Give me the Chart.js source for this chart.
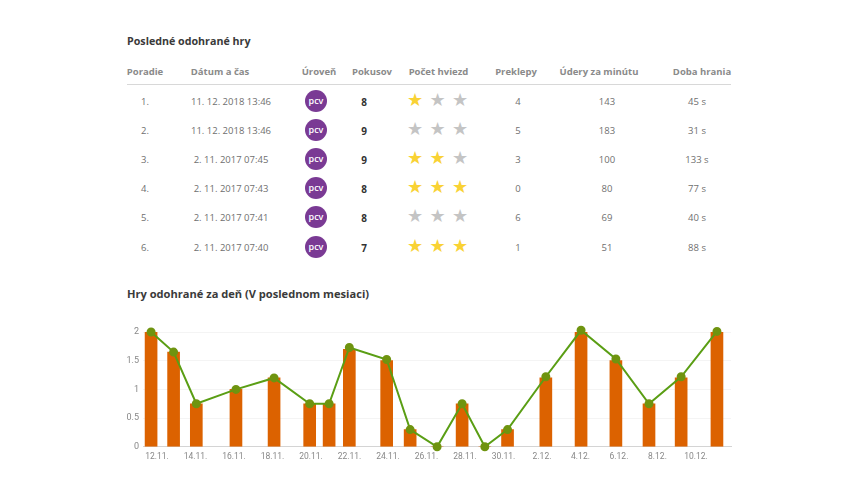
<!DOCTYPE html>
<html>
<head>
<meta charset="utf-8">
<script src="https://cdn.jsdelivr.net/npm/chart.js@4/dist/chart.umd.min.js"></script>
<style>
html, body { margin: 0; padding: 0; background: #fff; }
body { width: 860px; height: 493px; position: relative; overflow: hidden; font-family: "Open Sans", sans-serif; }
.title { position: absolute; left: 127px; font-size: 10.7px; font-weight: 700; color: #3a3a3a; white-space: nowrap; }
.head, .cell { position: absolute; transform: translateX(-50%); white-space: nowrap; line-height: 14px; }
.head { top: 65px; font-size: 9.5px; font-weight: 700; color: #8a8a8a; }
.cell { font-size: 9.5px; color: #6f6f6f; }
.cell.tries { font-size: 10px; font-weight: 700; color: #333; }
#rule { position: absolute; left: 127px; top: 84px; width: 604px; height: 1px; background: #d8d8d8; }
.badge { position: absolute; width: 22px; height: 22px; border-radius: 50%; background: #7a3a94; color: #fff; font-size: 9px; font-weight: 600; line-height: 22px; text-align: center; }
.star { position: absolute; transform: translateX(-50%); font-family: "DejaVu Sans"; font-size: 18px; line-height: 20px; color: #c4c4c4; }
.star.on { color: #f9d234; }
#chartBox { position: absolute; left: 120px; top: 322px; }
</style>
</head>
<body>
<div class="title" style="top:34px">Posledné odohrané hry</div>
<div class="title" style="top:286px;font-size:11.1px">Hry odohrané za deň (V poslednom mesiaci)</div>
<div id="rule"></div>
<div id="table"></div>
<div id="chartBox"><canvas id="playsChart" width="620" height="137"></canvas></div>
<script>
var columns = ["Poradie", "Dátum a čas", "Úroveň", "Pokusov", "Počet hviezd", "Preklepy", "Údery za minútu", "Doba hrania"];
var columnX = [145, 220, 319, 372, 438.5, 516, 599, 702];
var rowY = [102, 131, 160, 189, 218, 248];

var ranks = ["1.", "2.", "3.", "4.", "5.", "6."];
var dates = ["11. 12. 2018 13:46", "11. 12. 2018 13:46", "2. 11. 2017 07:45", "2. 11. 2017 07:43", "2. 11. 2017 07:41", "2. 11. 2017 07:40"];
var tries = [8, 9, 9, 8, 8, 7];
var stars = [1, 0, 2, 3, 0, 3];
var typos = [4, 5, 3, 0, 6, 1];
var strokes = [143, 183, 100, 80, 69, 51];
var durations = ["45 s", "31 s", "133 s", "77 s", "40 s", "88 s"];

// days since 12.11., games were not played at midnight so positions are uneven
var playDays = [-0.31, 0.86, 2.04, 4.1, 6.08, 7.93, 8.94, 9.99, 11.93, 13.15, 14.55, 15.85, 17.03, 18.21, 20.2, 22.03, 23.84, 25.56, 27.23, 29.09];
var playCounts = [2, 1.65, 0.75, 1, 1.2, 0.75, 0.75, 1.7, 1.5, 0.3, 0, 0.75, 0, 0.3, 1.2, 2, 1.5, 0.75, 1.2, 2];
var lineCounts = [2, 1.65, 0.75, 1, 1.2, 0.75, 0.75, 1.73, 1.52, 0.3, 0, 0.75, 0, 0.3, 1.22, 2.03, 1.53, 0.75, 1.22, 2.01];

var tickDays = [0, 2, 4, 6, 8, 10, 12, 14, 16, 18, 20, 22, 24, 26, 28];
var tickLabels = ["12.11.", "14.11.", "16.11.", "18.11.", "20.11.", "22.11.", "24.11.", "26.11.", "28.11.", "30.11.", "2.12.", "4.12.", "6.12.", "8.12.", "10.12."];
var yTicks = [0, 0.5, 1, 1.5, 2];

var table = document.getElementById("table");

function addCell(cls, x, y, text) {
	var el = document.createElement("div");
	el.className = cls;
	el.style.left = x + "px";
	el.style.top = y + "px";
	el.textContent = text;
	table.appendChild(el);
	return el;
}

columns.forEach(function(name, i) {
	addCell("head", columnX[i], 65, name);
});

ranks.forEach(function(rank, i) {
	var y = rowY[i] - 7;
	addCell("cell", columnX[0], y, rank);
	addCell("cell", 231, y, dates[i]);
	addCell("badge", 305, rowY[i] - 12, "pcv");
	addCell("cell tries", 364, y, tries[i]);
	for (var s = 0; s < 3; s++) {
		addCell(s < stars[i] ? "star on" : "star", 415 + s * 22.5, rowY[i] - 12, "★");
	}
	addCell("cell", 518, y, typos[i]);
	addCell("cell", 607, y, strokes[i]);
	addCell("cell", 697, y, durations[i]);
});

var barPoints = playDays.map(function(d, i) { return { x: d, y: playCounts[i] }; });
var linePoints = playDays.map(function(d, i) { return { x: d, y: lineCounts[i] }; });

var ctx = document.getElementById("playsChart");
var myChart = new Chart(ctx, {
	type: "bar",
	data: {
		datasets: [{
			type: "line",
			data: linePoints,
			borderColor: "#5a9e14",
			borderWidth: 2,
			tension: 0,
			fill: false,
			clip: false,
			pointRadius: 3.5,
			pointBackgroundColor: "#6f9410",
			pointBorderColor: "#6f9410",
			order: 1
		}, {
			type: "bar",
			data: barPoints,
			backgroundColor: "#dc6200",
			barThickness: 12,
			order: 2
		}]
	},
	options: {
		responsive: false,
		animation: false,
		plugins: { legend: { display: false }, tooltip: { enabled: false } },
		layout: { padding: { top: 10, right: 9, bottom: 0, left: 0 } },
		scales: {
			x: {
				type: "linear",
				offset: false,
				min: -0.73,
				max: 29.82,
				afterBuildTicks: function(scale) {
					scale.ticks = tickDays.map(function(d) { return { value: d }; });
				},
				grid: { display: false },
				border: { color: "#d4d4d4" },
				ticks: {
					autoSkip: false,
					maxRotation: 0,
					padding: -3,
					color: "#888",
					font: { family: "Roboto", size: 8.5 },
					callback: function(value) { return tickLabels[tickDays.indexOf(value)]; }
				}
			},
			y: {
				min: 0,
				max: 2,
				afterBuildTicks: function(scale) {
					scale.ticks = yTicks.map(function(v) { return { value: v }; });
				},
				afterFit: function(scale) { scale.width = 23; },
				grid: { color: "#f4f4f4", drawTicks: false },
				border: { display: false },
				ticks: {
					padding: 4,
					color: "#888",
					font: { family: "Roboto", size: 9 },
					callback: function(value) { return String(value); }
				}
			}
		}
	}
});
</script>
</body>
</html>
